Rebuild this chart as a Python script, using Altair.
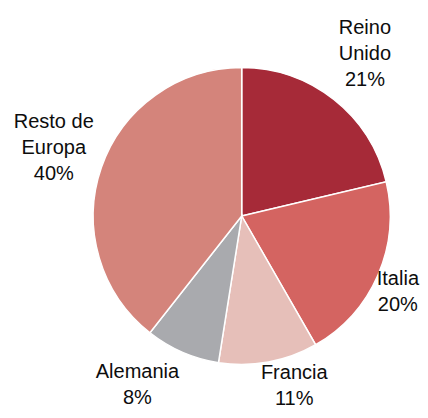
import math
import altair as alt
import pandas as pd

# data
categories = ["Reino Unido", "Italia", "Francia", "Alemania", "Resto de Europa"]
shares = [21.3, 20.4, 10.8, 8.1, 39.4]
pct_labels = ["21%", "20%", "11%", "8%", "40%"]
label_lines = [["Reino", "Unido"], ["Italia"], ["Francia"], ["Alemania"], ["Resto de", "Europa"]]
colors = ["#A62A38", "#D46461", "#E6BFB9", "#A9AAAE", "#D4847B"]

# layout
W, H = 412, 402
CX, CY = 233.7, 208.0
R = 148.5
FONT = "Liberation Sans"
FS = 20
LH = 26
GAP = 8
KX, KY = 4.0, 1.3

ARIAL = {"R": .722, "e": .556, "i": .222, "n": .556, "o": .556, "U": .722, "d": .556,
         "I": .278, "t": .278, "a": .556, "l": .222, "F": .611, "r": .333, "c": .5,
         "A": .667, "m": .833, "s": .5, " ": .278, "E": .667, "u": .556, "p": .556,
         "%": .889}


def text_w(s):
    return sum(ARIAL.get(ch, .556) for ch in s) * FS


def clamp(v, lo=-1.0, hi=1.0):
    return max(lo, min(hi, v))


total = sum(shares)
rows = []
acc = 0.0
for i, (c, v, p, ln) in enumerate(zip(categories, shares, pct_labels, label_lines)):
    mid = (acc + v / 2) / total * 2 * math.pi
    acc += v
    lines = ln + [p]
    w = max(text_w(s) for s in lines)
    h = len(lines) * LH
    ax = (R + GAP) * math.sin(mid)
    ay = -(R + GAP) * math.cos(mid)
    lx = ax + w / 2 * clamp(KX * math.sin(mid))
    ly = ay + h / 2 * clamp(-KY * math.cos(mid))
    # keep the label block inside the view
    lx = clamp(lx, -CX + w / 2 + 2, W - CX - w / 2 - 1)
    ly = clamp(ly, -CY + h / 2, H - CY - h / 2 + 2)
    # first line is anchored; move anchor so the block is centred
    ly -= (len(lines) - 1) * LH / 2
    rows.append({
        "cat": c, "val": v, "idx": i, "text": lines,
        "lang": math.atan2(lx, -ly), "lrad": math.hypot(lx, ly),
    })

df = pd.DataFrame(rows)

color_scale = alt.Scale(domain=categories, range=colors)

arcs = alt.Chart(df).mark_arc(radius=R, stroke="white", strokeWidth=1.5).encode(
    x=alt.value(CX), y=alt.value(CY),
    theta=alt.Theta("val:Q", stack=True),
    order=alt.Order("idx:Q"),
    color=alt.Color("cat:N", scale=color_scale, legend=None),
)

labels = alt.Chart(df).mark_text(
    font=FONT, fontSize=FS, lineHeight=LH, align="center", baseline="middle", color="#0d0d0d"
).encode(
    x=alt.value(CX), y=alt.value(CY),
    theta=alt.Theta("lang:Q", scale=None, stack=None),
    radius=alt.Radius("lrad:Q", scale=None),
    text="text",
)

chart = alt.layer(arcs, labels).properties(
    width=W, height=H, padding=0, autosize=alt.AutoSizeParams(type="none")
).configure_view(stroke=None)

chart.save("out.html", embed_options={"renderer": "svg", "actions": False})
